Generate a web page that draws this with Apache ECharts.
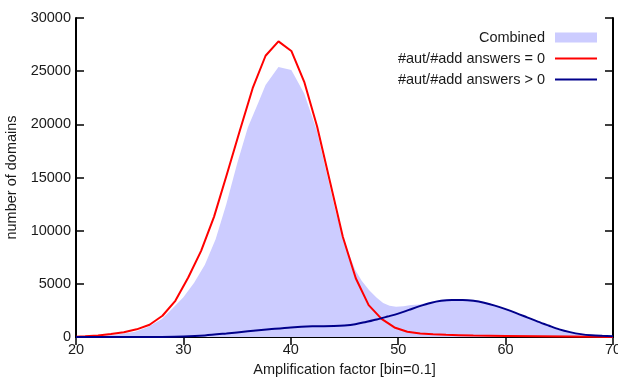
<!DOCTYPE html>
<html>
<head>
<meta charset="utf-8">
<script src="https://cdn.jsdelivr.net/npm/echarts@6/dist/echarts.min.js"></script>
<style>
html,body{margin:0;padding:0;background:#fff;}
#chart{width:618px;height:377px;}
</style>
</head>
<body>
<div id="chart"></div>
<script>
// ---- data ----
const xTicks = [20, 30, 40, 50, 60, 70];
const yTicks = [0, 5000, 10000, 15000, 20000, 25000, 30000];

const combinedX = [20, 22, 24, 25.5, 26.7, 28, 29, 30, 31, 32, 33, 34, 35, 36, 37, 37.65, 38.85, 40.05, 41.25, 42.4, 43.6, 44.2, 44.9, 45.5, 46.0, 46.6, 47.3, 48.0, 48.6, 49.2, 49.8, 50.5, 51.2, 52, 53, 54, 55, 56, 57, 58, 59, 60, 61, 62, 63, 64, 65, 66, 67, 68, 69, 70];
const combinedY = [0, 80, 250, 500, 950, 1700, 2700, 3750, 5100, 6800, 9200, 12500, 16300, 19700, 22100, 23700, 25400, 25100, 22900, 19500, 14300, 11700, 9300, 7600, 6300, 5300, 4400, 3700, 3200, 2950, 2850, 2900, 3000, 3050, 3300, 3500, 3580, 3580, 3500, 3300, 3000, 2650, 2250, 1850, 1400, 1050, 720, 480, 300, 190, 130, 100];

const zeroX = [20, 20.85, 22.05, 23.25, 24.45, 25.65, 26.85, 28.05, 29.25, 30.45, 31.65, 32.85, 34.05, 35.25, 36.45, 37.65, 38.85, 40.05, 41.25, 42.45, 43.65, 44.85, 46.05, 47.25, 48.45, 49.65, 50.85, 52.05, 53.25, 54.45, 55.65, 57, 60, 63, 66, 70];
const zeroY = [30, 60, 150, 280, 450, 720, 1150, 2000, 3400, 5600, 8100, 11300, 15300, 19400, 23400, 26450, 27800, 26900, 24000, 19800, 14600, 9400, 5520, 3000, 1700, 900, 500, 330, 250, 200, 170, 140, 100, 70, 40, 10];

const posX = [20, 26, 28, 30, 32, 34, 36, 38, 40, 42, 44, 45, 46, 47, 48, 49, 50, 51, 52, 53, 54, 55, 56, 57, 58, 59, 60, 61, 62, 63, 64, 65, 66, 67, 68, 69, 70];
const posY = [0, 0, 10, 50, 150, 330, 530, 720, 900, 1000, 1030, 1080, 1200, 1420, 1650, 1920, 2200, 2550, 2900, 3200, 3400, 3480, 3480, 3400, 3220, 2950, 2620, 2250, 1850, 1450, 1080, 720, 460, 270, 160, 110, 80];

const seriesNames = ['Combined', '#aut/#add answers = 0', '#aut/#add answers > 0'];
// ---------------------------------------

const zip = (xs, ys) => xs.map((x, i) => [x, ys[i]]);
const FONT = 'Liberation Sans';
const TXT = '#1a1a1a';
const FS = 14.5;

const axisBase = {
  min: xTicks[0], max: xTicks[xTicks.length - 1], interval: xTicks[1] - xTicks[0],
  axisLine: {show: true, lineStyle: {color: '#000', width: 2}},
  axisTick: {show: true, inside: true, length: 8, lineStyle: {color: '#000', width: 1.5}},
  splitLine: {show: false}
};
const yBase = {
  min: yTicks[0], max: yTicks[yTicks.length - 1], interval: yTicks[1] - yTicks[0],
  axisLine: {show: true, lineStyle: {color: '#000', width: 2}},
  axisTick: {show: true, inside: true, length: 8, lineStyle: {color: '#000', width: 1.5}},
  splitLine: {show: false}
};

const chart = echarts.init(document.getElementById('chart'), null, {renderer: 'canvas'});
chart.setOption({
  animation: false,
  backgroundColor: '#fff',
  textStyle: {fontFamily: FONT},
  grid: {left: 76, right: 5, top: 18, bottom: 40, containLabel: false, outerBoundsMode: 'none'},
  xAxis: [
    Object.assign({}, axisBase, {
      type: 'value', position: 'bottom',
      name: 'Amplification factor [bin=0.1]', nameLocation: 'middle', nameGap: 25,
      nameTextStyle: {fontFamily: FONT, fontSize: FS, color: TXT},
      axisLabel: {fontFamily: FONT, fontSize: FS, color: TXT, margin: 5, showMinLabel: true, showMaxLabel: true,
        formatter: v => String(v)}
    }),
    Object.assign({}, axisBase, {type: 'value', position: 'top', axisLabel: {show: false}})
  ],
  yAxis: [
    Object.assign({}, yBase, {
      type: 'value', position: 'left',
      name: 'number of domains', nameLocation: 'middle', nameGap: 54,
      nameTextStyle: {fontFamily: FONT, fontSize: FS, color: TXT},
      axisLabel: {fontFamily: FONT, fontSize: FS, color: TXT, margin: 5, formatter: v => String(v)}
    }),
    Object.assign({}, yBase, {type: 'value', position: 'right', axisLabel: {show: false}})
  ],
  legend: [
    {
      data: [{name: seriesNames[0], icon: 'rect'}],
      right: 16, top: 25, align: 'right', orient: 'vertical',
      itemWidth: 42, itemHeight: 10, selectedMode: false,
      textStyle: {fontFamily: FONT, fontSize: FS, color: TXT, padding: [0, 5, 0, 0]}
    },
    {
      data: [{name: seriesNames[1], icon: 'rect'}, {name: seriesNames[2], icon: 'rect'}],
      right: 16, top: 46, align: 'right', orient: 'vertical',
      itemWidth: 42, itemHeight: 2, itemGap: 6, selectedMode: false,
      textStyle: {fontFamily: FONT, fontSize: FS, color: TXT, padding: [0, 5, 0, 0]}
    }
  ],
  series: [
    {
      name: seriesNames[0], type: 'line', data: zip(combinedX, combinedY),
      symbol: 'none', color: '#ccccff',
      lineStyle: {width: 0, color: '#ccccff'},
      areaStyle: {color: '#ccccff', opacity: 1},
      z: 1
    },
    {
      name: seriesNames[1], type: 'line', data: zip(zeroX, zeroY),
      symbol: 'none', color: '#ff0000',
      lineStyle: {width: 2, color: '#ff0000'},
      z: 3
    },
    {
      name: seriesNames[2], type: 'line', data: zip(posX, posY),
      symbol: 'none', smooth: 0.3, color: '#00008b',
      lineStyle: {width: 2, color: '#00008b'},
      z: 4
    }
  ]
});
</script>
</body>
</html>
